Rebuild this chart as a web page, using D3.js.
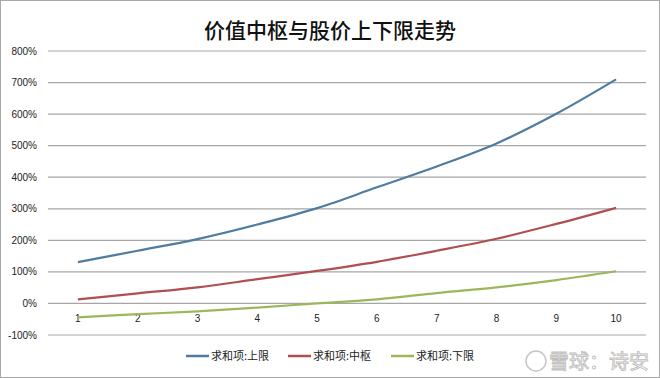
<!DOCTYPE html>
<meta charset="utf-8">
<style>
body { margin: 0; background: #fff; }
text { font-family: "Liberation Sans", "Noto Sans CJK SC", sans-serif; }
.cjk { font-family: "Noto Sans CJK SC", sans-serif; }
.grid line { stroke: #a6a6a6; stroke-width: 1.2; }
.series { fill: none; stroke-width: 2.2; }
</style>
<svg width="660" height="378"></svg>
<script src="https://d3js.org/d3.v7.min.js"></script>
<script>

var categories = ["1", "2", "3", "4", "5", "6", "7", "8", "9", "10"];
var seriesNames = ["求和项:上限", "求和项:中枢", "求和项:下限"];
var upper = [131, 167, 204, 250, 302, 368, 434, 507, 601, 710];
var middle = [13, 32, 51, 77, 103, 132, 167, 205, 252, 303];
var lower = [-44, -34, -25, -13, 0, 13, 33, 51, 74, 102];
var yTicks = [-100, 0, 100, 200, 300, 400, 500, 600, 700, 800];
var colors = ["#4f7ca0", "#ae4f52", "#9db65c"];

var svg = d3.select("svg"),
    margin = {top: 51, right: 14, bottom: 43, left: 48},
    width = +svg.attr("width") - margin.left - margin.right,
    height = +svg.attr("height") - margin.top - margin.bottom;

// outer frame
svg.append("rect")
    .attr("x", 0.5).attr("y", 0.5)
    .attr("width", 659).attr("height", 377)
    .attr("fill", "#fff").attr("stroke", "#a8a8a8");

svg.append("text")
    .attr("class", "cjk")
    .attr("x", 330).attr("y", 38)
    .attr("text-anchor", "middle")
    .attr("font-size", 21).attr("font-weight", 500)
    .attr("fill", "#111")
    .text("价值中枢与股价上下限走势");

var x = d3.scalePoint().domain(categories).range([0, width]).padding(0.5),
    y = d3.scaleLinear().domain([-100, 800]).range([height, 0]);

var g = svg.append("g")
    .attr("transform", "translate(" + margin.left + "," + margin.top + ")");

g.append("g")
    .attr("class", "grid")
  .selectAll("line")
  .data(yTicks)
  .enter().append("line")
    .attr("x1", 0).attr("x2", width)
    .attr("y1", function(d) { return y(d); })
    .attr("y2", function(d) { return y(d); });

g.append("g").selectAll("text")
  .data(yTicks)
  .enter().append("text")
    .attr("x", -11)
    .attr("y", function(d) { return y(d); })
    .attr("dy", "0.35em")
    .attr("text-anchor", "end")
    .attr("font-size", 10).attr("fill", "#222")
    .text(function(d) { return d + "%"; });

g.append("g").selectAll("text")
  .data(categories)
  .enter().append("text")
    .attr("x", function(d) { return x(d); })
    .attr("y", y(0) + 15)
    .attr("dy", "0.35em")
    .attr("text-anchor", "middle")
    .attr("font-size", 10).attr("fill", "#222")
    .text(function(d) { return d; });

var line = d3.line()
    .curve(d3.curveCatmullRom.alpha(0.5))
    .x(function(d, i) { return x(categories[i]); })
    .y(function(d) { return y(d); });

[upper, middle, lower].forEach(function(values, i) {
  g.append("path")
      .datum(values)
      .attr("class", "series")
      .attr("stroke", colors[i])
      .attr("d", line);
});

// legend
var legendX = [186, 288, 391];
var legend = svg.append("g").selectAll("g")
  .data(seriesNames)
  .enter().append("g")
    .attr("transform", function(d, i) { return "translate(" + legendX[i] + ",356)"; });

legend.append("line")
    .attr("x1", 0).attr("x2", 23)
    .attr("stroke", function(d, i) { return colors[i]; })
    .attr("stroke-width", 2.5);

legend.append("text")
    .attr("class", "cjk")
    .attr("x", 25).attr("dy", "0.35em")
    .attr("font-size", 11).attr("fill", "#222")
    .text(function(d) { return d; });

// watermark
var wm = svg.append("g").attr("opacity", 0.55);
wm.append("circle")
    .attr("cx", 536).attr("cy", 361).attr("r", 10)
    .attr("fill", "none").attr("stroke", "#999").attr("stroke-width", 1.5);
wm.append("text")
    .attr("class", "cjk")
    .attr("x", 549).attr("y", 369)
    .attr("font-size", 20)
    .attr("fill", "#fff").attr("stroke", "#888").attr("stroke-width", 0.9)
    .text("雪球：诗安");

</script>
